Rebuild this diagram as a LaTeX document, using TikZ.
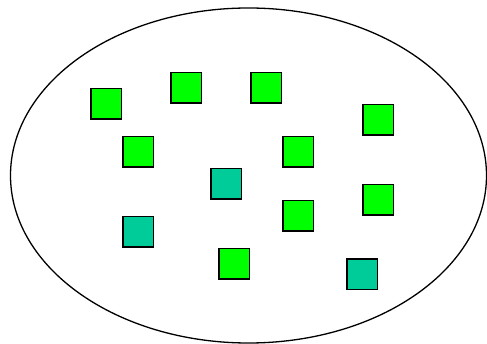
\documentclass[tikz,border=0pt]{standalone}
\usetikzlibrary{positioning}

\definecolor{lgreen}{HTML}{00FF00}
\definecolor{teal}{HTML}{00CC99}

\tikzset{
  gbox/.style={draw=black, line width=1.5pt, fill=lgreen, minimum size=30.5pt, inner sep=0pt},
  tbox/.style={gbox, fill=teal}
}

\begin{document}
\begin{tikzpicture}[x=1pt, y=-1pt]
\useasboundingbox (0,0) rectangle (487,344);
% Menge
\draw[line width=1.3pt] (248.5,175.5) ellipse (238 and 167.5);
% gruene Elemente
\node[gbox] (g1) at (106,104) {};
\node[gbox] (g2) at (186,88) {};
\node[gbox] (g3) at (266,88) {};
\node[gbox] (g4) at (378,120) {};
\node[gbox] (g5) at (138,152) {};
\node[gbox] (g6) at (298,152) {};
\node[gbox] (g7) at (298,216) {};
\node[gbox] (g8) at (378,200) {};
\node[gbox] (g9) at (234,264) {};
% andere Elemente
\node[tbox] (t1) at (226,184) {};
\node[tbox] (t2) at (138,232) {};
\node[tbox] (t3) at (362,274.5) {};
\end{tikzpicture}
\end{document}
